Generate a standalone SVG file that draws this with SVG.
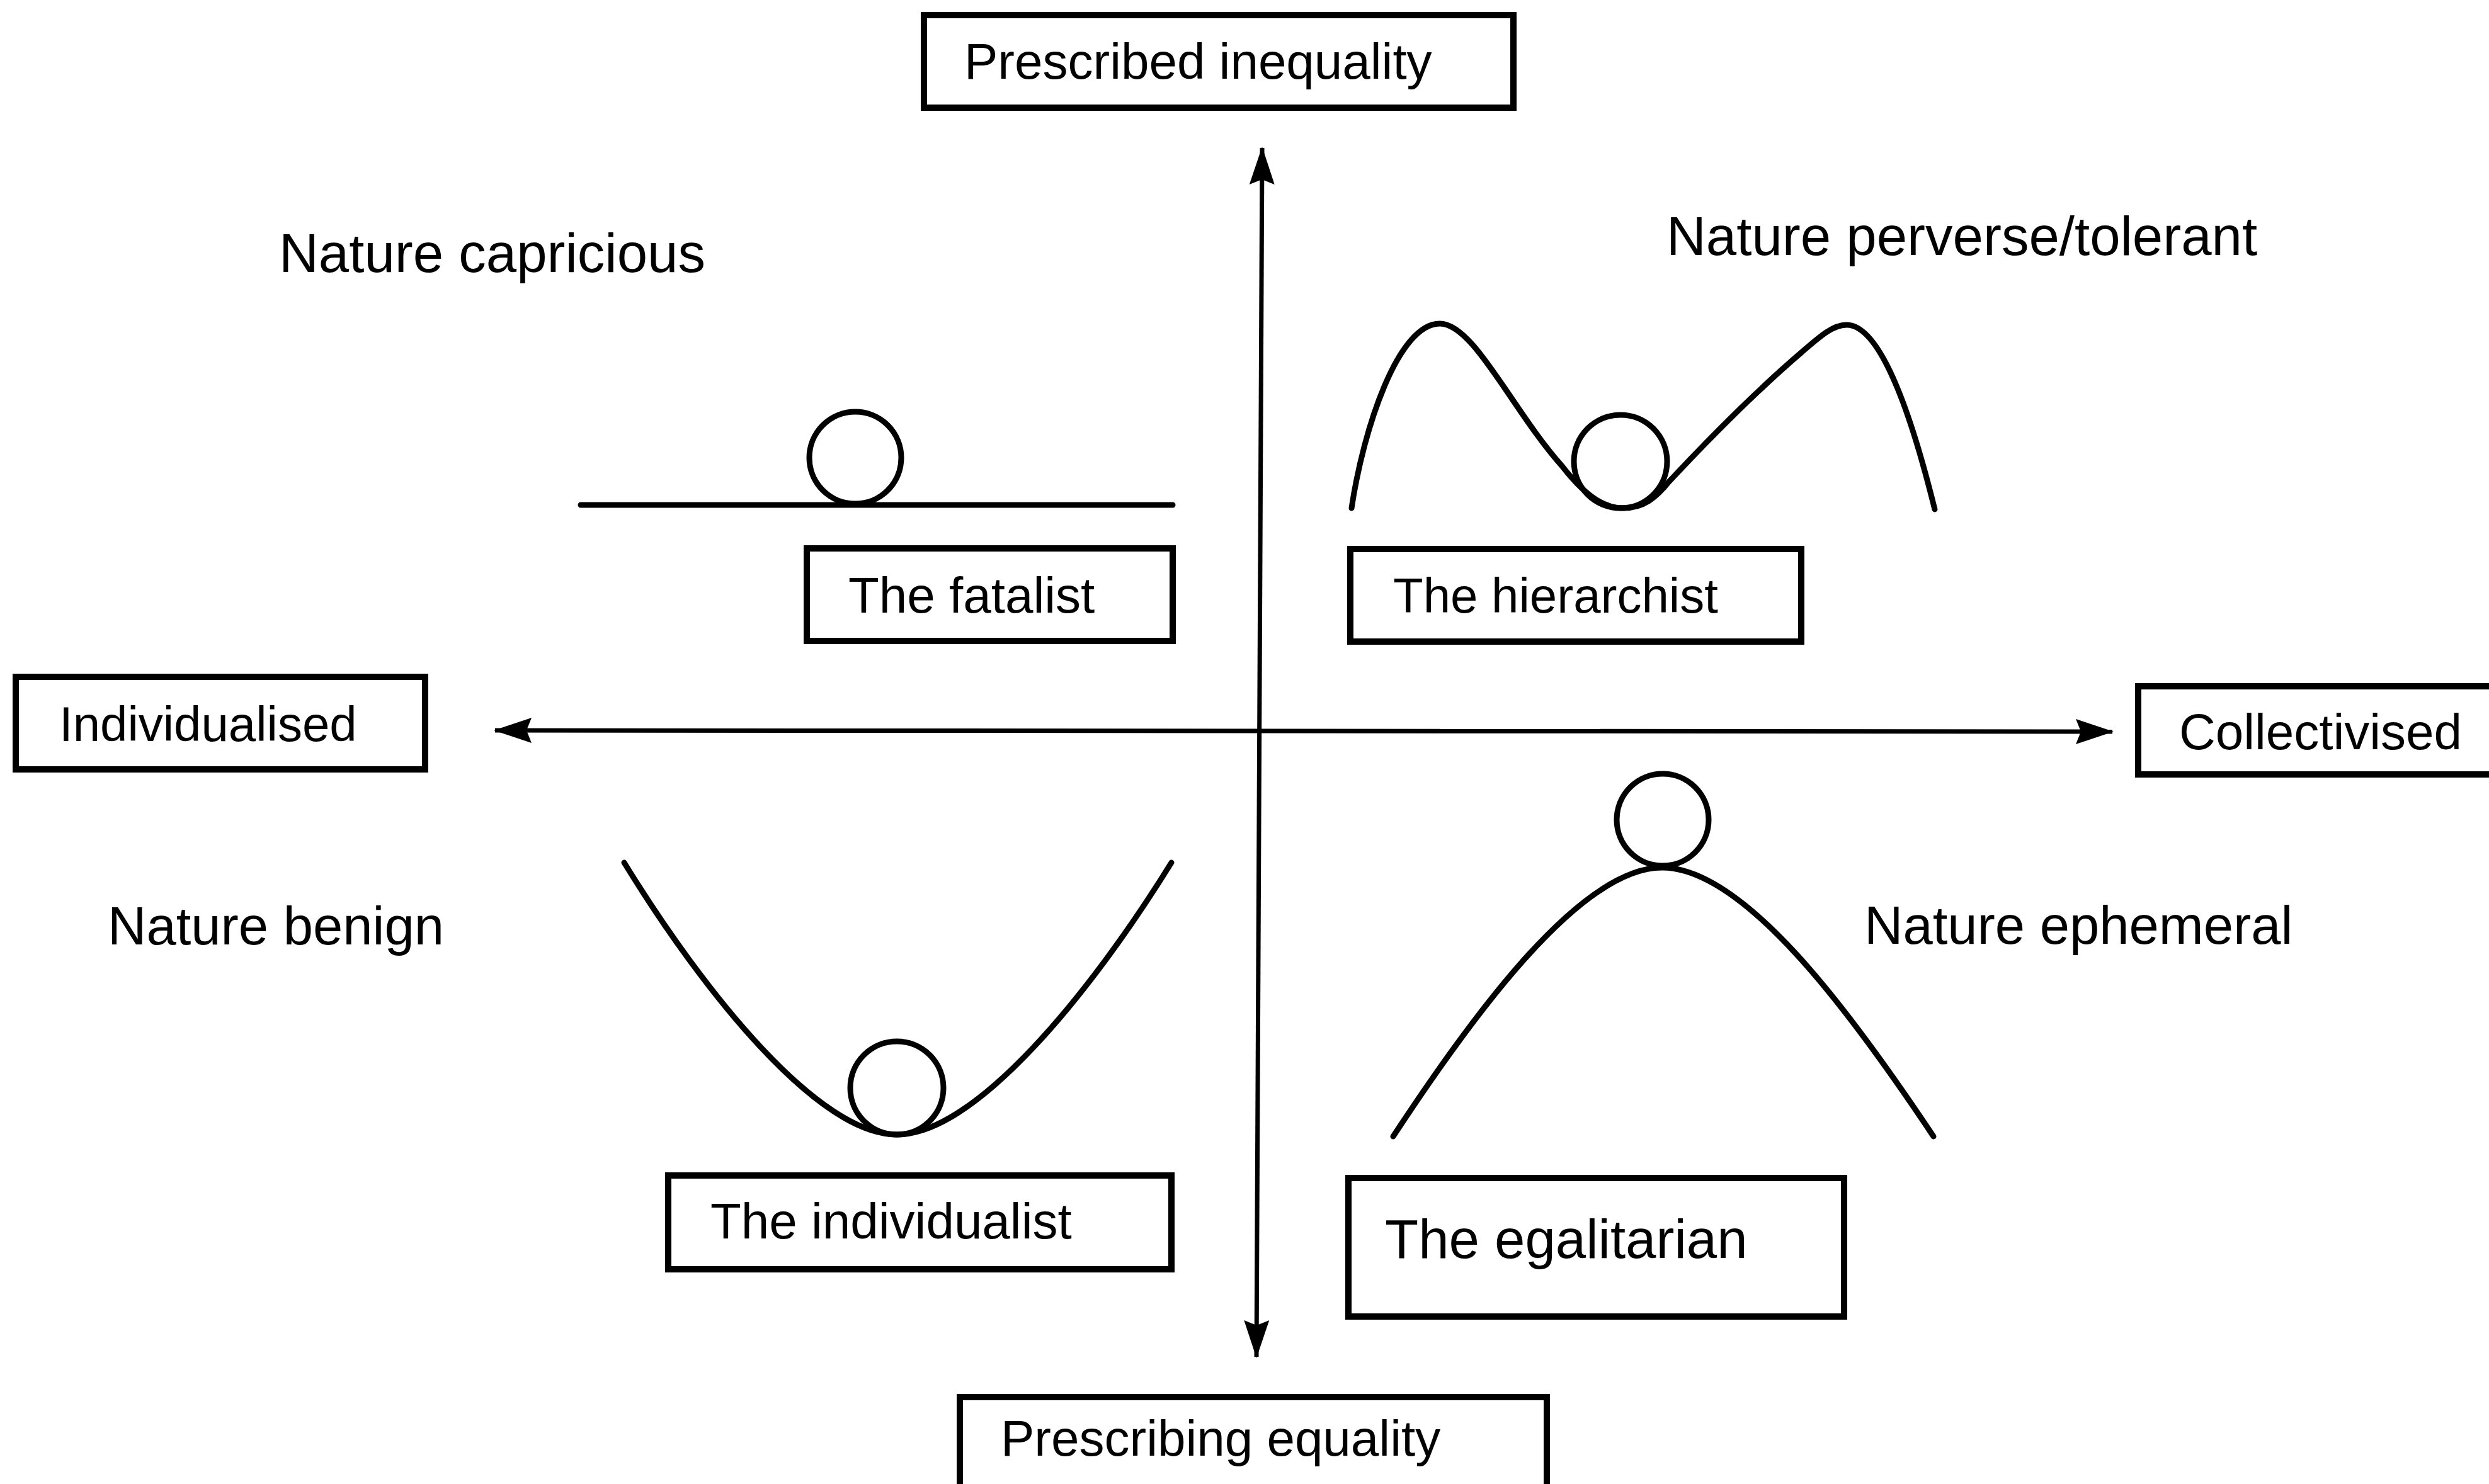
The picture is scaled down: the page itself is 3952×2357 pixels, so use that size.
<svg xmlns="http://www.w3.org/2000/svg" width="3952" height="2357" viewBox="0 0 3952 2357">
<style>
.box{fill:#fff;stroke:#000;stroke-width:10}
.t{font-family:"Liberation Sans",Arial,sans-serif;fill:#000}
.curve{fill:none;stroke:#000;stroke-width:9;stroke-linecap:round;stroke-linejoin:round}
.axis{fill:none;stroke:#000;stroke-width:7}
</style>
<defs>
<marker id="ah" viewBox="0 0 60 44" refX="58" refY="22" markerWidth="60" markerHeight="44" markerUnits="userSpaceOnUse" orient="auto-start-reverse">
<path d="M0,2 L60,22 L0,42 L8,22 z" fill="#000"/>
</marker>
</defs>
<rect width="3952" height="2357" fill="#fff"/>
<g id="connectors">
<line class="axis" x1="2004" y1="235" x2="1995" y2="2155" marker-start="url(#ah)" marker-end="url(#ah)"/>
<line class="axis" x1="786" y1="1160" x2="3354" y2="1162" marker-start="url(#ah)" marker-end="url(#ah)"/>
</g>
<g id="prescribed-inequality">
<rect class="box" x="1467" y="24" width="936" height="147"/>
<text class="t" x="1531" y="125" font-size="80">Prescribed inequality</text>
</g>
<g id="prescribing-equality">
<rect class="box" x="1524" y="2219" width="932" height="200"/>
<text class="t" x="1589" y="2312" font-size="80">Prescribing equality</text>
</g>
<g id="individualised">
<rect class="box" x="25" y="1075" width="650" height="147"/>
<text class="t" x="94" y="1177" font-size="78">Individualised</text>
</g>
<g id="collectivised">
<rect class="box" x="3395" y="1090" width="600" height="140"/>
<text class="t" x="3460" y="1190" font-size="80">Collectivised</text>
</g>
<g id="nature-capricious">
<text class="t" x="443" y="432" font-size="87">Nature capricious</text>
</g>
<g id="nature-perverse">
<text class="t" x="2646" y="405" font-size="87">Nature perverse/tolerant</text>
</g>
<g id="nature-benign">
<text class="t" x="171" y="1500" font-size="85">Nature benign</text>
</g>
<g id="nature-ephemeral">
<text class="t" x="2960" y="1499" font-size="85">Nature ephemeral</text>
</g>
<g id="fatalist">
<line class="curve" x1="922" y1="802" x2="1862" y2="802"/>
<circle class="curve" cx="1358" cy="727" r="73"/>
<rect class="box" x="1281" y="871" width="581" height="147"/>
<text class="t" x="1347" y="973" font-size="80">The fatalist</text>
</g>
<g id="hierarchist">
<path class="curve" d="M2146,807 C2165,680 2220,514 2286,514 C2340,514 2400,650 2480,740 C2515,785 2545,807 2577,807 C2610,807 2630,790 2650,765 C2720,690 2790,620 2860,560 C2890,534 2910,516 2932,516 C2990,516 3040,680 3072,809"/>
<circle class="curve" cx="2573" cy="733" r="74"/>
<rect class="box" x="2144" y="872" width="716" height="147"/>
<text class="t" x="2212" y="973" font-size="78">The hierarchist</text>
</g>
<g id="individualist">
<path class="curve" d="M991,1370 C1120,1580 1300,1802 1424,1802 C1548,1802 1730,1580 1860,1370"/>
<circle class="curve" cx="1424" cy="1728" r="74"/>
<rect class="box" x="1061" y="1867" width="799" height="149"/>
<text class="t" x="1128" y="1967" font-size="80">The individualist</text>
</g>
<g id="egalitarian">
<path class="curve" d="M2212,1805 C2340,1610 2510,1378 2639,1378 C2770,1378 2940,1610 3070,1805"/>
<circle class="curve" cx="2640" cy="1302" r="73"/>
<rect class="box" x="2141" y="1871" width="787" height="220"/>
<text class="t" x="2199" y="1998" font-size="87">The egalitarian</text>
</g>
</svg>
